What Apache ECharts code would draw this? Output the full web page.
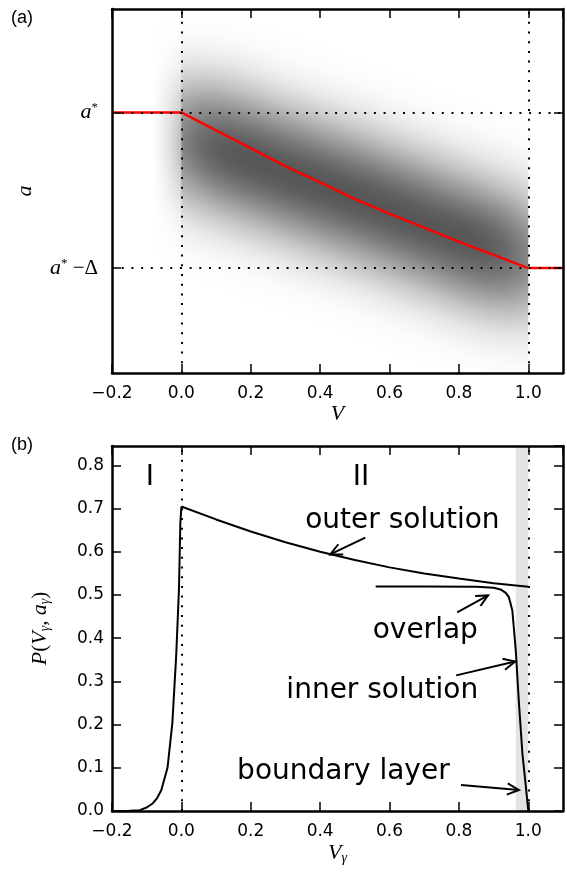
<!DOCTYPE html>
<html>
<head>
<meta charset="utf-8">
<script src="https://cdn.jsdelivr.net/npm/echarts@6/dist/echarts.min.js"></script>
<style>
html, body { margin: 0; padding: 0; background: #fff; }
#chart { width: 567px; height: 874px; }
</style>
</head>
<body>
<div id="chart"></div>
<script>
// ---- panel (a) ----
// red path a(V)
var pathV = [-0.2, 0, 0.1, 0.2, 0.3, 0.4, 0.5, 0.6, 0.7, 0.8, 0.9, 1.0, 1.1];
var pathA = [1, 1, 0.885, 0.77, 0.655, 0.55, 0.445, 0.35, 0.26, 0.17, 0.085, 0, 0];
// dark core of the grey density band, upper and lower edge
var bandV = [-0.05, 0, 0.2, 0.4, 0.6, 0.8, 1.0, 1.05];
var bandTop = [1.16, 1.16, 0.99, 0.835, 0.675, 0.5, 0.34, 0.3];
var bandBottom = [0.56, 0.56, 0.39, 0.235, 0.075, -0.1, -0.26, -0.3];
// a axis: a* - Delta = 0, a* = 1
var aMin = -0.674, aMax = 1.664;
var aTicks = [0, 1];
var aTickLabels = ['{i|a}{s|*}{n| \u2212\u0394}', '{i|a}{s|*}'];
var aGuides = [0, 1];
var vGuides = [0, 1];

// ---- panel (b) ----
var regionV = [-0.2, -0.15, -0.12, -0.1, -0.082, -0.07, -0.058, -0.04, -0.026, -0.015, -0.007, -0.003, 0];
var regionP = [0, 0.0005, 0.002, 0.008, 0.018, 0.03, 0.048, 0.1, 0.204, 0.359, 0.513, 0.667, 0.705];
var outerV = [0, 0.1, 0.2, 0.3, 0.4, 0.5, 0.6, 0.7, 0.8, 0.9, 1.0];
var outerP = [0.705, 0.675, 0.647, 0.622, 0.6, 0.581, 0.564, 0.55, 0.538, 0.527, 0.519];
var innerV = [0.56, 0.7, 0.85, 0.9, 0.92, 0.935, 0.944, 0.954, 0.964, 0.973, 0.983, 0.993, 1.0];
var innerP = [0.52, 0.52, 0.519, 0.517, 0.513, 0.505, 0.495, 0.464, 0.37, 0.25, 0.133, 0.056, 0];
var layerV = [0.964, 1.0];
var pMin = 0, pMax = 0.845;
var notes = ['I', 'II', 'outer solution', 'overlap', 'inner solution', 'boundary layer'];
var noteV = [-0.091, 0.518, 0.637, 0.703, 0.579, 0.467];
var noteP = [0.771, 0.771, 0.672, 0.418, 0.279, 0.09];
var arrowFrom = [[0.530, 0.633], [0.795, 0.46], [0.792, 0.314], [0.806, 0.060]];
var arrowTo = [[0.429, 0.594], [0.884, 0.499], [0.962, 0.346], [0.973, 0.0485]];

var vMin = -0.2, vMax = 1.1;

function pairs(xs, ys) {
    return xs.map(function (x, i) { return [x, ys[i]]; });
}
function num(v) {
    return v.toFixed(1).replace('-', '\u2212');
}

var mathRich = {
    i: { fontFamily: 'Liberation Serif', fontStyle: 'italic', fontSize: 22, color: '#000' },
    n: { fontFamily: 'Liberation Serif', fontSize: 21, color: '#000' },
    s: { fontFamily: 'Liberation Serif', fontSize: 13, color: '#000', verticalAlign: 'top', padding: [0, 0, 8, 0] },
    g: { fontFamily: 'Liberation Serif', fontStyle: 'italic', fontSize: 14, color: '#000', verticalAlign: 'bottom', padding: [10, 0, 0, 0] }
};

var lineCol = '#000';
function xAxis(grid, pos, labels, name) {
    return {
        type: 'value', gridIndex: grid, position: pos, min: vMin, max: vMax, interval: 0.2, z: 10,
        axisLine: { onZero: false, lineStyle: { color: lineCol, width: 2.5 } },
        axisTick: { inside: true, length: 9, lineStyle: { color: lineCol, width: 1.5 } },
        axisLabel: { show: labels, showMaxLabel: false, margin: 12, color: '#000', fontSize: 17, fontFamily: 'DejaVu Sans', formatter: num },
        splitLine: { show: false },
        name: name, nameLocation: 'middle', nameGap: 30,
        nameTextStyle: { rich: mathRich }
    };
}
function yAxisA(pos, labels) {
    return {
        type: 'value', gridIndex: 0, position: pos, min: aMin, max: aMax, z: 10,
        axisLine: { onZero: false, lineStyle: { color: lineCol, width: 2.5 } },
        axisTick: { inside: true, length: 9, customValues: aTicks, lineStyle: { color: lineCol, width: 1.5 } },
        axisLabel: {
            show: labels, margin: 14, customValues: aTicks,
            formatter: function (v) { return aTickLabels[aTicks.indexOf(Math.round(v))]; },
            rich: mathRich
        },
        splitLine: { show: false },
        name: labels ? '{i|a}' : '', nameLocation: 'middle', nameGap: 76, nameRotate: 90,
        nameTextStyle: { rich: mathRich }
    };
}
function yAxisB(pos, labels) {
    return {
        type: 'value', gridIndex: 1, position: pos, min: pMin, max: pMax, interval: 0.1, z: 10,
        axisLine: { onZero: false, lineStyle: { color: lineCol, width: 2.5 } },
        axisTick: { inside: true, length: 9, lineStyle: { color: lineCol, width: 1.5 } },
        axisLabel: { show: labels, showMaxLabel: false, margin: 8, color: '#000', fontSize: 17, fontFamily: 'DejaVu Sans', formatter: num },
        splitLine: { show: false },
        name: labels ? '{i|P}{n|(}{i|V}{g|\u03b3}{n|, }{i|a}{g|\u03b3}{n|)}' : '',
        nameLocation: 'middle', nameGap: 60, nameRotate: 90,
        nameTextStyle: { rich: mathRich }
    };
}

var chart = echarts.init(document.getElementById('chart'));

var option = {
    animation: false,
    backgroundColor: '#fff',
    grid: [
        { left: 112, right: 4, top: 9, height: 364 },
        { left: 112, right: 4, top: 446, height: 365 }
    ],
    xAxis: [
        xAxis(0, 'bottom', true, '{i|V}'),
        xAxis(0, 'top', false, ''),
        xAxis(1, 'bottom', true, '{i|V}{g|\u03b3}'),
        xAxis(1, 'top', false, '')
    ],
    yAxis: [yAxisA('left', true), yAxisA('right', false), yAxisB('left', true), yAxisB('right', false)],
    graphic: [
        { type: 'text', left: 11, top: 9, style: { text: '(a)', font: '18px "Liberation Sans"', fill: '#000' } },
        { type: 'text', left: 11, top: 436, style: { text: '(b)', font: '18px "Liberation Sans"', fill: '#000' } }
    ],
    series: [
        {
            // grey density: blurred shadow of the band core, masked left of V=0 and right of V=1
            type: 'custom', xAxisIndex: 0, yAxisIndex: 0, z: 1, silent: true, clip: true,
            data: [0],
            renderItem: function (params, api) {
                var pts = [], i;
                for (i = 0; i < bandV.length; i++) pts.push(api.coord([bandV[i], bandTop[i]]));
                for (i = bandV.length - 1; i >= 0; i--) pts.push(api.coord([bandV[i], bandBottom[i]]));
                var off = 3000;
                var shifted = pts.map(function (p) { return [p[0], p[1] - off]; });
                var l0 = api.coord([vMin, aMax]), l1 = api.coord([vGuides[0], aMin]);
                var r0 = api.coord([vGuides[1], aMax]), r1 = api.coord([vMax, aMin]);
                return {
                    type: 'group',
                    children: [
                        {
                            type: 'polygon', shape: { points: shifted },
                            style: { fill: '#000', shadowBlur: 70, shadowColor: 'rgba(0,0,0,0.82)', shadowOffsetX: 0, shadowOffsetY: off }
                        },
                        {
                            type: 'rect', shape: { x: l0[0], y: l0[1], width: l1[0] - l0[0], height: l1[1] - l0[1] },
                            style: {
                                fill: new echarts.graphic.LinearGradient(0, 0, 1, 0, [
                                    { offset: 0, color: 'rgba(255,255,255,1)' },
                                    { offset: 0.58, color: 'rgba(255,255,255,1)' },
                                    { offset: 1, color: 'rgba(255,255,255,0.45)' }
                                ])
                            }
                        },
                        {
                            type: 'rect', shape: { x: r0[0], y: r0[1], width: r1[0] - r0[0], height: r1[1] - r0[1] },
                            style: { fill: '#fff' }
                        }
                    ]
                };
            }
        },
        {
            type: 'line', xAxisIndex: 0, yAxisIndex: 0, z: 3, data: [],
            markLine: {
                silent: true, symbol: ['none', 'none'], label: { show: false },
                lineStyle: { color: '#000', type: [2, 7.7], width: 2 },
                data: vGuides.map(function (v) { return { xAxis: v }; }).concat(aGuides.map(function (a) { return { yAxis: a }; }))
            }
        },
        {
            type: 'line', xAxisIndex: 0, yAxisIndex: 0, z: 4,
            data: pairs(pathV, pathA), showSymbol: false, smooth: false,
            lineStyle: { color: '#ff0000', width: 2.5 }
        },
        // ---- panel (b) ----
        {
            type: 'line', xAxisIndex: 2, yAxisIndex: 2, z: 1, data: [],
            markArea: {
                silent: true, itemStyle: { color: '#e3e3e3' },
                data: [[{ xAxis: layerV[0] }, { xAxis: layerV[1] }]]
            }
        },
        {
            type: 'line', xAxisIndex: 2, yAxisIndex: 2, z: 3, data: [],
            markLine: {
                silent: true, symbol: ['none', 'none'], label: { show: false },
                lineStyle: { color: '#000', type: [2, 7.7], width: 2 },
                data: vGuides.map(function (v) { return { xAxis: v }; })
            }
        },
        {
            type: 'line', xAxisIndex: 2, yAxisIndex: 2, z: 4,
            data: pairs(regionV, regionP), showSymbol: false, smooth: false,
            lineStyle: { color: '#000', width: 2 }
        },
        {
            type: 'line', xAxisIndex: 2, yAxisIndex: 2, z: 4,
            data: pairs(outerV, outerP), showSymbol: false, smooth: false,
            lineStyle: { color: '#000', width: 2 }
        },
        {
            type: 'line', xAxisIndex: 2, yAxisIndex: 2, z: 4,
            data: pairs(innerV, innerP), showSymbol: false, smooth: false,
            lineStyle: { color: '#000', width: 2 }
        },
        {
            // annotation arrows with open heads
            type: 'custom', xAxisIndex: 2, yAxisIndex: 2, z: 5, silent: true,
            data: arrowFrom.map(function (f, i) { return [f[0], f[1], arrowTo[i][0], arrowTo[i][1]]; }),
            renderItem: function (params, api) {
                var a = api.coord([api.value(0), api.value(1)]);
                var b = api.coord([api.value(2), api.value(3)]);
                var ang = Math.atan2(b[1] - a[1], b[0] - a[0]);
                var len = 13, spread = 0.45;
                var h1 = [b[0] - len * Math.cos(ang - spread), b[1] - len * Math.sin(ang - spread)];
                var h2 = [b[0] - len * Math.cos(ang + spread), b[1] - len * Math.sin(ang + spread)];
                var st = { stroke: '#000', lineWidth: 2, fill: null };
                return {
                    type: 'group',
                    children: [
                        { type: 'line', shape: { x1: a[0], y1: a[1], x2: b[0], y2: b[1] }, style: st },
                        { type: 'polyline', shape: { points: [h1, b, h2] }, style: st }
                    ]
                };
            }
        },
        {
            type: 'custom', xAxisIndex: 2, yAxisIndex: 2, z: 6, silent: true,
            data: notes.map(function (t, i) { return [noteV[i], noteP[i], i]; }),
            renderItem: function (params, api) {
                var p = api.coord([api.value(0), api.value(1)]);
                var k = api.value(2);
                return {
                    type: 'text', x: p[0], y: p[1],
                    style: {
                        text: notes[k], fill: '#000',
                        font: '28px "DejaVu Sans"',
                        align: 'center', verticalAlign: 'middle'
                    }
                };
            }
        }
    ]
};

chart.setOption(option);
</script>
</body>
</html>
